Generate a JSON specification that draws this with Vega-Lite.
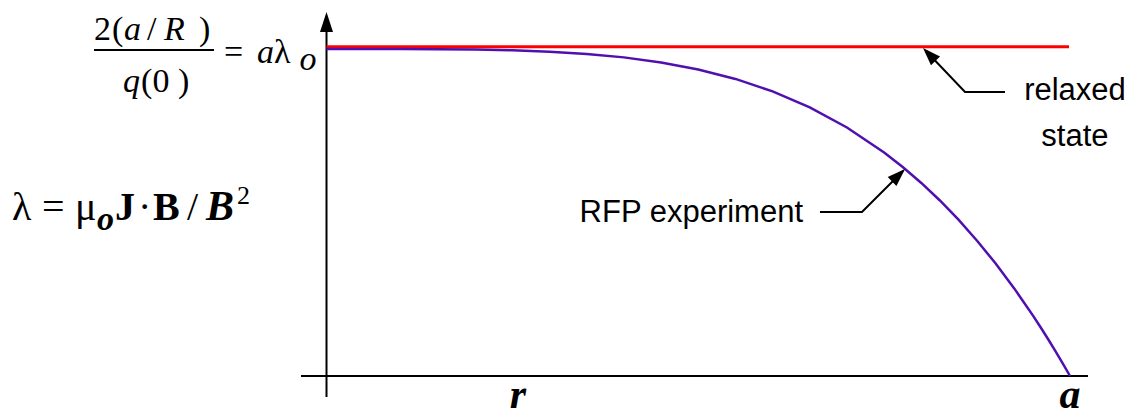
{
  "$schema": "https://vega.github.io/schema/vega-lite/v6.json",
  "width": 1140,
  "height": 418,
  "autosize": "none",
  "padding": 0,
  "background": "white",
  "config": {"view": {"stroke": null}},
  "datasets": {
    "curve": [
      {"r": 0, "v": 1.0}, {"r": 0.05, "v": 1.0}, {"r": 0.1, "v": 0.9999}, {"r": 0.15, "v": 0.9995},
      {"r": 0.2, "v": 0.9984}, {"r": 0.25, "v": 0.9961}, {"r": 0.3, "v": 0.9919}, {"r": 0.35, "v": 0.985},
      {"r": 0.4, "v": 0.9744}, {"r": 0.45, "v": 0.959}, {"r": 0.5, "v": 0.9375}, {"r": 0.55, "v": 0.9085},
      {"r": 0.6, "v": 0.8704}, {"r": 0.65, "v": 0.8215}, {"r": 0.7, "v": 0.7599}, {"r": 0.75, "v": 0.6836},
      {"r": 0.775, "v": 0.6392}, {"r": 0.8, "v": 0.5904}, {"r": 0.825, "v": 0.5368}, {"r": 0.85, "v": 0.478},
      {"r": 0.875, "v": 0.4138}, {"r": 0.9, "v": 0.3439}, {"r": 0.925, "v": 0.2679}, {"r": 0.95, "v": 0.1855},
      {"r": 0.96, "v": 0.1507}, {"r": 0.97, "v": 0.1147}, {"r": 0.98, "v": 0.0776}, {"r": 0.99, "v": 0.0394},
      {"r": 1.0, "v": 0.0}
    ],
    "relaxed": [{"r": 0, "v": 1.007}, {"r": 0.9987, "v": 1.007}],
    "hrules": [
      {"r": -0.0343, "r2": 1.0242, "v": 0},
      {"r": -0.3127, "r2": -0.1513, "v": 0.9969}
    ],
    "vrules": [{"r": 0, "v": -0.0642, "v2": 1.06}],
    "pointers": [
      {"id": "relaxed", "r": 0.9126, "v": 0.8685},
      {"id": "relaxed", "r": 0.8588, "v": 0.8685},
      {"id": "relaxed", "r": 0.8063, "v": 0.9939},
      {"id": "rfp", "r": 0.6637, "v": 0.5015},
      {"id": "rfp", "r": 0.7202, "v": 0.5015},
      {"id": "rfp", "r": 0.7754, "v": 0.6269}
    ],
    "headUp": [{"r": 0, "v": 1.1131}],
    "headRelaxed": [{"r": 0.8023, "v": 1.0031}],
    "headRfp": [{"r": 0.7781, "v": 0.633}],
    "serif30": [
      {"t": "2", "r": -0.3127, "v": 1.0275},
      {"t": "(", "r": -0.2885, "v": 1.0275},
      {"t": "/", "r": -0.2414, "v": 1.0275},
      {"t": ")", "r": -0.1715, "v": 1.0275},
      {"t": "(0 )", "r": -0.2494, "v": 0.8685},
      {"t": "=", "r": -0.1379, "v": 0.9572},
      {"t": "λ", "r": -0.0706, "v": 0.9572}
    ],
    "serif30i": [
      {"t": "a", "r": -0.2724, "v": 1.0275},
      {"t": "R", "r": -0.2186, "v": 1.0275},
      {"t": "q", "r": -0.2737, "v": 0.8685},
      {"t": "a", "r": -0.0935, "v": 0.9572},
      {"t": "o", "r": -0.0363, "v": 0.9358}
    ],
    "serif40": [
      {"t": "λ", "r": -0.423, "v": 0.4771},
      {"t": "=", "r": -0.3826, "v": 0.4771},
      {"t": "μ", "r": -0.3383, "v": 0.4771},
      {"t": "·", "r": -0.2535, "v": 0.4771},
      {"t": "/", "r": -0.1876, "v": 0.4771}
    ],
    "serif40b": [
      {"t": "J", "r": -0.2845, "v": 0.4771},
      {"t": "B", "r": -0.2334, "v": 0.4771}
    ],
    "serif40bi": [{"t": "B", "r": -0.1621, "v": 0.4771}],
    "serifSub": [{"t": "o", "r": -0.3087, "v": 0.4465}],
    "serifSup": [{"t": "2", "r": -0.1203, "v": 0.526}],
    "axisLabels": [
      {"t": "r", "r": 0.2575, "v": -0.0979},
      {"t": "a", "r": 1.0, "v": -0.0979}
    ],
    "sansCenter": [
      {"t": "relaxed", "r": 1.0067, "v": 0.844},
      {"t": "state", "r": 1.0067, "v": 0.7034}
    ],
    "sansRight": [{"t": "RFP experiment", "r": 0.6409, "v": 0.4709}]
  },
  "encoding": {
    "x": {"field": "r", "type": "quantitative", "scale": {"domain": [-0.43914, 1.09415], "nice": false, "zero": false}, "axis": null},
    "y": {"field": "v", "type": "quantitative", "scale": {"domain": [-0.12844, 1.14985], "nice": false, "zero": false}, "axis": null}
  },
  "layer": [
    {"data": {"name": "hrules"}, "mark": {"type": "rule", "color": "black", "strokeWidth": 2}, "encoding": {"x2": {"field": "r2"}}},
    {"data": {"name": "vrules"}, "mark": {"type": "rule", "color": "black", "strokeWidth": 2}, "encoding": {"y2": {"field": "v2"}}},
    {"data": {"name": "relaxed"}, "mark": {"type": "line", "color": "#ff0000", "strokeWidth": 3}, "encoding": {}},
    {"data": {"name": "curve"}, "mark": {"type": "line", "color": "#5010b0", "strokeWidth": 2.5}, "encoding": {}},
    {"data": {"name": "pointers"}, "mark": {"type": "line", "color": "black", "strokeWidth": 2}, "encoding": {"detail": {"field": "id"}}},
    {"data": {"name": "headUp"}, "mark": {"type": "point", "shape": "M0,0L-0.65,2L0.65,2Z", "size": 400, "angle": 0, "filled": true, "color": "black", "opacity": 1, "strokeWidth": 0}},
    {"data": {"name": "headRelaxed"}, "mark": {"type": "point", "shape": "M0,0L-0.7,2L0.7,2Z", "size": 324, "angle": 316, "filled": true, "color": "black", "opacity": 1, "strokeWidth": 0}},
    {"data": {"name": "headRfp"}, "mark": {"type": "point", "shape": "M0,0L-0.7,2L0.7,2Z", "size": 324, "angle": 46, "filled": true, "color": "black", "opacity": 1, "strokeWidth": 0}},
    {"data": {"name": "serif30"}, "mark": {"type": "text", "font": "Liberation Serif", "fontSize": 34, "align": "left", "baseline": "alphabetic", "color": "black"}, "encoding": {"text": {"field": "t"}}},
    {"data": {"name": "serif30i"}, "mark": {"type": "text", "font": "Liberation Serif", "fontSize": 34, "fontStyle": "italic", "align": "left", "baseline": "alphabetic", "color": "black"}, "encoding": {"text": {"field": "t"}}},
    {"data": {"name": "serif40"}, "mark": {"type": "text", "font": "Liberation Serif", "fontSize": 40, "align": "left", "baseline": "alphabetic", "color": "black"}, "encoding": {"text": {"field": "t"}}},
    {"data": {"name": "serif40b"}, "mark": {"type": "text", "font": "Liberation Serif", "fontSize": 40, "fontWeight": "bold", "align": "left", "baseline": "alphabetic", "color": "black"}, "encoding": {"text": {"field": "t"}}},
    {"data": {"name": "serif40bi"}, "mark": {"type": "text", "font": "Liberation Serif", "fontSize": 42, "fontWeight": "bold", "fontStyle": "italic", "align": "left", "baseline": "alphabetic", "color": "black"}, "encoding": {"text": {"field": "t"}}},
    {"data": {"name": "serifSub"}, "mark": {"type": "text", "font": "Liberation Serif", "fontSize": 34, "fontWeight": "bold", "fontStyle": "italic", "align": "left", "baseline": "alphabetic", "color": "black"}, "encoding": {"text": {"field": "t"}}},
    {"data": {"name": "serifSup"}, "mark": {"type": "text", "font": "Liberation Serif", "fontSize": 26, "align": "left", "baseline": "alphabetic", "color": "black"}, "encoding": {"text": {"field": "t"}}},
    {"data": {"name": "axisLabels"}, "mark": {"type": "text", "font": "Liberation Serif", "fontSize": 42, "fontWeight": "bold", "fontStyle": "italic", "align": "center", "baseline": "alphabetic", "color": "black"}, "encoding": {"text": {"field": "t"}}},
    {"data": {"name": "sansCenter"}, "mark": {"type": "text", "font": "Liberation Sans", "fontSize": 31, "align": "center", "baseline": "alphabetic", "color": "black"}, "encoding": {"text": {"field": "t"}}},
    {"data": {"name": "sansRight"}, "mark": {"type": "text", "font": "Liberation Sans", "fontSize": 31, "align": "right", "baseline": "alphabetic", "color": "black"}, "encoding": {"text": {"field": "t"}}}
  ]
}
